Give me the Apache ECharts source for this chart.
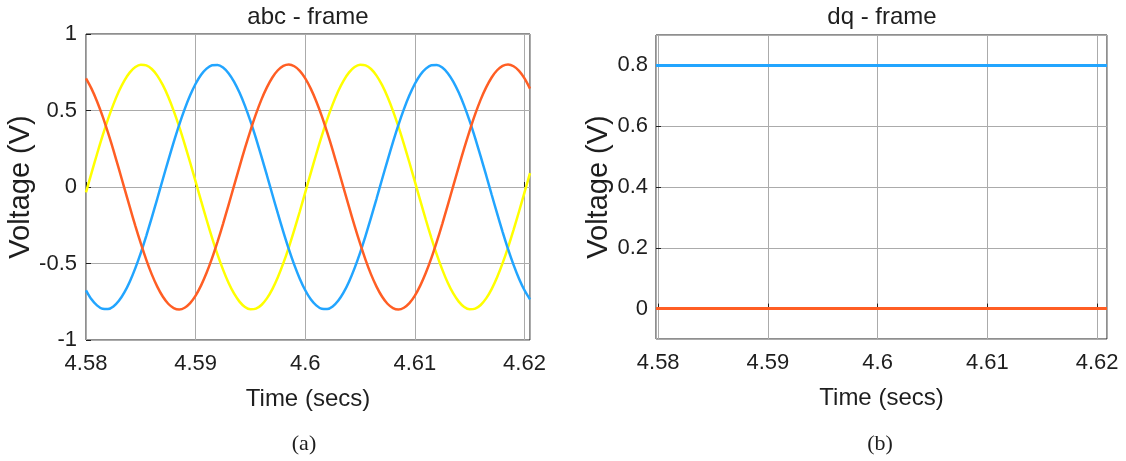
<!DOCTYPE html>
<html><head><meta charset="utf-8">
<script src="https://cdn.jsdelivr.net/npm/echarts@6/dist/echarts.min.js"></script>
<style>html,body{margin:0;padding:0;background:#fff}#c{width:1126px;height:461px}</style>
</head><body><div id="c"></div>
<script>
// time samples (s)
const time = [4.5800,4.5805,4.5810,4.5815,4.5820,4.5825,4.5830,4.5835,4.5840,4.5845,
              4.5850,4.5855,4.5860,4.5865,4.5870,4.5875,4.5880,4.5885,4.5890,4.5895,
              4.5900,4.5905,4.5910,4.5915,4.5920,4.5925,4.5930,4.5935,4.5940,4.5945,
              4.5950,4.5955,4.5960,4.5965,4.5970,4.5975,4.5980,4.5985,4.5990,4.5995,
              4.6000,4.6005,4.6010,4.6015,4.6020,4.6025,4.6030,4.6035,4.6040,4.6045,
              4.6050,4.6055,4.6060,4.6065,4.6070,4.6075,4.6080,4.6085,4.6090,4.6095,
              4.6100,4.6105,4.6110,4.6115,4.6120,4.6125,4.6130,4.6135,4.6140,4.6145,
              4.6150,4.6155,4.6160,4.6165,4.6170,4.6175,4.6180,4.6185,4.6190,4.6195,
              4.6200,4.6205];
// abc-frame voltages (V)
const phaseA = [-0.035,0.091,0.214,0.332,0.442,0.540,0.626,0.696,0.749,0.784,0.799,0.795,0.771,0.728,0.667,0.590,0.498,0.394,0.280,0.160,
                0.035,-0.091,-0.214,-0.332,-0.442,-0.540,-0.626,-0.696,-0.749,-0.784,-0.799,-0.795,-0.771,-0.728,-0.667,-0.590,-0.498,-0.394,-0.280,-0.160,
                -0.035,0.091,0.214,0.332,0.442,0.540,0.626,0.696,0.749,0.784,0.799,0.795,0.771,0.728,0.667,0.590,0.498,0.394,0.280,0.160,
                0.035,-0.091,-0.214,-0.332,-0.442,-0.540,-0.626,-0.696,-0.749,-0.784,-0.799,-0.795,-0.771,-0.728,-0.667,-0.590,-0.498,-0.394,-0.280,-0.160,
                -0.035,0.091];
const phaseB = [-0.675,-0.734,-0.774,-0.796,-0.798,-0.781,-0.744,-0.689,-0.617,-0.530,-0.430,-0.319,-0.200,-0.077,0.049,0.173,0.293,0.406,0.509,0.599,
                0.675,0.734,0.774,0.796,0.798,0.781,0.744,0.689,0.617,0.530,0.430,0.319,0.200,0.077,-0.049,-0.173,-0.293,-0.406,-0.509,-0.599,
                -0.675,-0.734,-0.774,-0.796,-0.798,-0.781,-0.744,-0.689,-0.617,-0.530,-0.430,-0.319,-0.200,-0.077,0.049,0.173,0.293,0.406,0.509,0.599,
                0.675,0.734,0.774,0.796,0.798,0.781,0.744,0.689,0.617,0.530,0.430,0.319,0.200,0.077,-0.049,-0.173,-0.293,-0.406,-0.509,-0.599,
                -0.675,-0.734];
const phaseC = [0.710,0.643,0.561,0.465,0.357,0.241,0.118,-0.007,-0.132,-0.254,-0.369,-0.476,-0.571,-0.651,-0.716,-0.763,-0.791,-0.800,-0.789,-0.759,
                -0.710,-0.643,-0.561,-0.465,-0.357,-0.241,-0.118,0.007,0.132,0.254,0.369,0.476,0.571,0.651,0.716,0.763,0.791,0.800,0.789,0.759,
                0.710,0.643,0.561,0.465,0.357,0.241,0.118,-0.007,-0.132,-0.254,-0.369,-0.476,-0.571,-0.651,-0.716,-0.763,-0.791,-0.800,-0.789,-0.759,
                -0.710,-0.643,-0.561,-0.465,-0.357,-0.241,-0.118,0.007,0.132,0.254,0.369,0.476,0.571,0.651,0.716,0.763,0.791,0.800,0.789,0.759,
                0.710,0.643];
// dq-frame voltages (V)
const dqTime = [4.5798, 4.6209];
const dComp = [0.8, 0.8];
const qComp = [0, 0];

const titles = ['abc - frame', 'dq - frame'];
const captions = ['(a)', '(b)'];

const SANS = "'Liberation Sans', Arial, Helvetica, sans-serif";
const SERIF = "'Liberation Serif', 'Times New Roman', serif";
const TXT = '#1e1e1e';
const GRIDC = '#ababab';
const YEL = '#ffff00', BLU = '#22a5ff', ORA = '#ff5e24';

const pairs = (xs, ys) => xs.map((x, i) => [x, ys[i]]);
const fmt = v => String(Number(v.toFixed(4)));

function xAxisCfg(idx, min, max) {
  return {
    type: 'value', gridIndex: idx, min: min, max: max,
    axisLine: {show: false},
    axisTick: {show: true, inside: true, length: 5, lineStyle: {color: TXT}},
    axisLabel: {fontSize: 22, fontFamily: SANS, color: TXT, margin: 13,
                showMinLabel: idx === 0, showMaxLabel: false, formatter: fmt},
    splitLine: {show: true, lineStyle: {color: GRIDC, width: 1}},
    name: 'Time (secs)', nameLocation: 'middle', nameGap: 47,
    nameTextStyle: {fontSize: 24, fontFamily: SANS, color: TXT}
  };
}
function yAxisCfg(idx, min, max, interval, gap, margin) {
  const o = {
    type: 'value', gridIndex: idx, min: min, max: max,
    axisLine: {show: false},
    axisTick: {show: true, inside: true, length: 5, lineStyle: {color: TXT}},
    axisLabel: {fontSize: 22, fontFamily: SANS, color: TXT, margin: margin,
                showMinLabel: idx === 0, showMaxLabel: idx === 0, formatter: v => String(Number(v.toFixed(3)))},
    splitLine: {show: true, lineStyle: {color: GRIDC, width: 1}},
    name: 'Voltage (V)', nameLocation: 'middle', nameGap: gap,
    nameTextStyle: {fontSize: 29, fontFamily: SANS, color: TXT}
  };
  if (interval) o.interval = interval; else o.splitNumber = 5;
  return o;
}
function lineSeries(xi, data, color, width, smooth) {
  return {type: 'line', xAxisIndex: xi, yAxisIndex: xi, data: data, showSymbol: false,
          smooth: smooth, lineStyle: {color: color, width: width}, itemStyle: {color: color},
          clip: true, animation: false};
}
function txt(text, x, y, size, family) {
  return {type: 'text', x: x, y: y, silent: true,
          style: {text: text, fontSize: size, fontFamily: family, fill: TXT,
                  align: 'center', verticalAlign: 'middle', textAlign: 'center', textVerticalAlign: 'middle'}};
}

const chart = echarts.init(document.getElementById('c'), null, {renderer: 'canvas'});
chart.setOption({
  animation: false,
  backgroundColor: '#ffffff',
  grid: [
    {left: 86, top: 34, width: 444, height: 306, show: true, borderColor: TXT, borderWidth: 1, backgroundColor: 'transparent', containLabel: false},
    {left: 656, top: 35, width: 451, height: 304, show: true, borderColor: TXT, borderWidth: 1, backgroundColor: 'transparent', containLabel: false}
  ],
  xAxis: [xAxisCfg(0, 4.58, 4.6205), xAxisCfg(1, 4.5798, 4.6209)],
  yAxis: [yAxisCfg(0, -1, 1, 0.5, 48, 9), yAxisCfg(1, -0.1, 0.9, null, 43, 8)],
  series: [
    lineSeries(0, pairs(time, phaseA), YEL, 2.5, 0.3),
    lineSeries(0, pairs(time, phaseB), BLU, 2.5, 0.3),
    lineSeries(0, pairs(time, phaseC), ORA, 2.5, 0.3),
    lineSeries(1, pairs(dqTime, dComp), BLU, 3, false),
    lineSeries(1, pairs(dqTime, qComp), ORA, 3, false)
  ],
  graphic: [
    txt(titles[0], 308, 17, 24, SANS),
    txt(titles[1], 882, 17, 24, SANS),
    txt(captions[0], 304, 444, 22, SERIF),
    txt(captions[1], 880, 444, 22, SERIF)
  ]
});
</script></body></html>
